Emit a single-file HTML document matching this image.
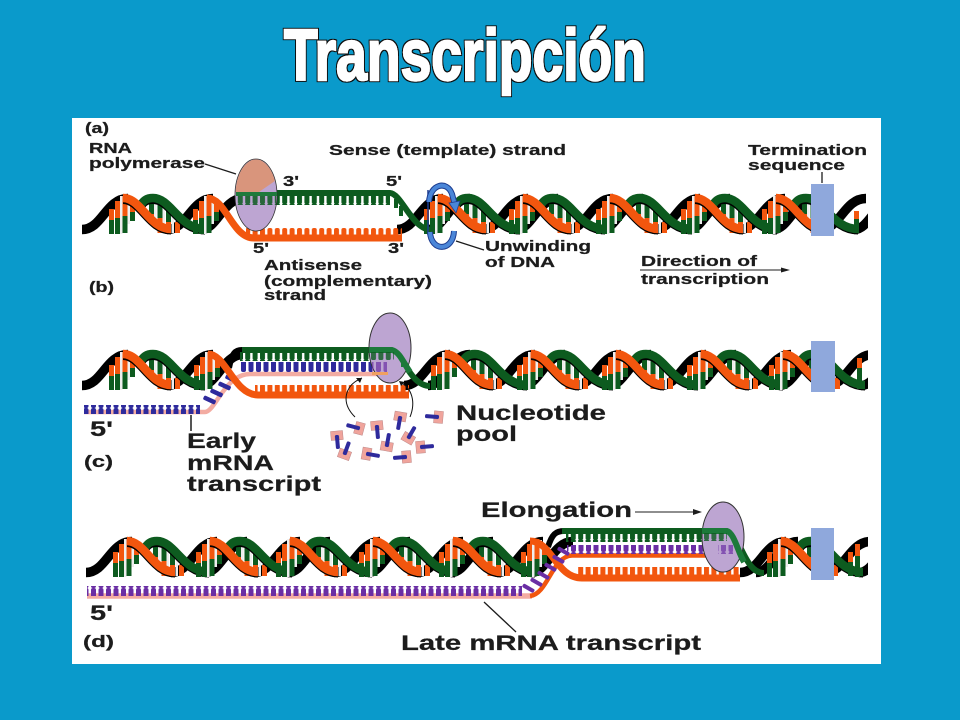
<!DOCTYPE html>
<html><head><meta charset="utf-8"><title>Transcripción</title>
<style>
html,body{margin:0;padding:0;background:#0a9acb}
svg{display:block}
text{font-family:"Liberation Sans",sans-serif;font-weight:bold;fill:#1c1c1c;stroke:#1c1c1c;stroke-width:.25}
</style></head><body>
<svg width="960" height="720" viewBox="0 0 960 720" xmlns="http://www.w3.org/2000/svg">
<defs>
<filter id="outl" x="-5%" y="-20%" width="110%" height="140%">
<feMorphology in="SourceAlpha" operator="dilate" radius="0.9" result="d"/>
<feFlood flood-color="#111"/><feComposite in2="d" operator="in" result="o"/>
<feMerge><feMergeNode in="o"/><feMergeNode in="SourceGraphic"/></feMerge>
</filter>
<clipPath id="cl"><rect x="0" y="100" width="868" height="600"/></clipPath>
<path id="K1" fill="none" stroke="#000" stroke-width="9.500" d="M42,35.500 C62,35.500 66,4.500 88,4.500"/>
<path id="K2" fill="none" stroke="#000" stroke-width="9.500" d="M76,35.500 C92,35.500 98,4.500 118,4.500"/>
<g id="OR" fill="none"><path stroke="#000" stroke-width="9" d="M-2,5.500 C16,5.500 24,36 46,36"/><path stroke="#f2560e" stroke-width="8.500" d="M-2,4 C16,4 24,35 46,35"/></g>
<g id="GR" fill="none"><path stroke="#000" stroke-width="9" d="M14,15 C18,7 22,5.500 28,5.500 C46,5.500 54,36 80,36"/><path stroke="#0d5b1f" stroke-width="8.500" d="M14,14 C18,6 22,4 28,4 C46,4 54,35 80,35"/></g>
<g id="B1">
<rect x="-16" y="15" width="5" height="11" fill="#f2560e"/><rect x="-16" y="26" width="5" height="14" fill="#0d5b1f"/>
<rect x="-10" y="7" width="5" height="17" fill="#f2560e"/><rect x="-10" y="24" width="5" height="16" fill="#0d5b1f"/>
<rect x="-5" y="2" width="2.500" height="38" fill="#eee"/>
<rect x="-2.500" y="2" width="5" height="20" fill="#f2560e"/><rect x="-2.500" y="22" width="5" height="17" fill="#0d5b1f"/>
<rect x="2.500" y="3" width="2.500" height="27" fill="#eee"/>
<rect x="5" y="7" width="5" height="11" fill="#f2560e"/><rect x="5" y="18" width="5" height="9" fill="#0d5b1f"/>
</g>
<g id="B2">
<rect x="24" y="4" width="5" height="16" fill="#0d5b1f"/><rect x="24" y="20" width="5" height="8" fill="#f2560e"/>
<rect x="29" y="4" width="2.500" height="26" fill="#eee"/>
<rect x="32.500" y="4" width="5" height="20" fill="#0d5b1f"/><rect x="32.500" y="24" width="5" height="15" fill="#f2560e"/>
<rect x="37.500" y="8" width="2.500" height="31" fill="#eee"/>
<rect x="41" y="12" width="5" height="16" fill="#0d5b1f"/><rect x="41" y="28" width="5" height="12" fill="#f2560e"/>
<rect x="46.500" y="16" width="2.500" height="23" fill="#eee"/>
<rect x="50" y="28" width="5" height="11" fill="#f2560e"/>
</g>
<g id="H"><use href="#K1"/><use href="#K2"/><use href="#B1"/><use href="#B2"/><use href="#GR"/><use href="#OR"/></g>
<pattern id="tg" patternUnits="userSpaceOnUse" width="7.400" height="12"><rect x="1" y="-2" width="5" height="14" rx="1.800" fill="#0d5b1f"/></pattern>
<pattern id="to" patternUnits="userSpaceOnUse" width="7.400" height="12"><rect x="1" y="0" width="5" height="14" rx="2" fill="#f2560e"/></pattern>
<pattern id="tb" patternUnits="userSpaceOnUse" width="7.500" height="12"><rect x="1" y="0" width="5" height="12" rx="2" fill="#2e2a9c"/></pattern>
<pattern id="tp" patternUnits="userSpaceOnUse" width="7.500" height="12"><rect x="1" y="0" width="5" height="12" rx="2" fill="#6a2ea4"/></pattern>
<g id="n"><path d="M-6,-3 L-2,-3 L-2,1 L2,1 L2,-3 L6,-3 L6,6 L-6,6Z" fill="#f0a49c" stroke="#b88" stroke-width=".5"/><rect x="-2" y="-12" width="4" height="14" rx="1.500" fill="#2e2a9c"/></g>
<clipPath id="pk"><polygon points="230,150 285,150 285,174 259,192 230,192"/></clipPath>
</defs>

<rect width="960" height="720" fill="#0a9acb"/>
<rect x="72" y="118" width="809" height="546" fill="#fff"/>

<text x="284" y="80" font-size="72" textLength="362" lengthAdjust="spacingAndGlyphs" filter="url(#outl)" style="fill:#fff;stroke:#fff;stroke-width:2.200">Transcripción</text>

<!-- PANEL A -->
<g clip-path="url(#cl)">
<g transform="translate(0,194)">
<use href="#K1" x="40"/><use href="#H" x="125"/>
<use href="#B1" x="209"/>
<use href="#K1" x="355"/><use href="#K2" x="352"/>
<use href="#H" x="440"/><use href="#H" x="525"/><use href="#H" x="612"/><use href="#H" x="697"/><use href="#H" x="778"/>
</g>
<rect x="854" y="211" width="5" height="8" fill="#f2560e"/><rect x="854" y="219" width="5" height="14" fill="#0d5b1f"/>
</g>
<path d="M207,198 C226,198 232,238 254,238 L402,238" fill="none" stroke="#f2560e" stroke-width="7"/>
<path d="M240,193 L390,193 C402,194 412,230 432,230" fill="none" stroke="#0d5b1f" stroke-width="6"/>
<rect x="240" y="195" width="150" height="10" fill="url(#tg)"/>
<rect x="394" y="199" width="4" height="9" fill="#0d5b1f"/><rect x="399" y="206" width="4" height="10" fill="#0d5b1f"/>
<rect x="246" y="228" width="156" height="8" fill="url(#to)"/>
<ellipse cx="256" cy="195" rx="21" ry="36" fill="#bda5d2" stroke="#333" stroke-width=".8"/>
<ellipse cx="256" cy="195" rx="20.500" ry="35.500" fill="#d9957c" clip-path="url(#pk)"/>
<rect x="236" y="192" width="41" height="4" fill="#1f7a3c"/>
<rect x="237" y="196" width="39" height="9" fill="url(#tg)" opacity=".85"/>
<!-- twist arrow -->
<path d="M428,190 L428,235" stroke="#1c3c90" stroke-width="1.500"/>
<path d="M429,202 C430,184 447,180 452,194 L455,205" fill="none" stroke="#1c3c90" stroke-width="6"/>
<path d="M429,202 C430,184 447,180 452,194 L455,205" fill="none" stroke="#4a86d8" stroke-width="4"/>
<path d="M449,203 L460,201 L456,213Z" fill="#4a86d8" stroke="#1c3c90" stroke-width=".7"/>
<path d="M430,232 C431,252 453,252 454,231" fill="none" stroke="#1c3c90" stroke-width="6"/>
<path d="M430,232 C431,252 453,252 454,231" fill="none" stroke="#4a86d8" stroke-width="4"/>
<rect x="811" y="184" width="23" height="52" fill="#8fa8dc"/>

<!-- PANEL B -->
<g clip-path="url(#cl)">
<g transform="translate(0,350)">
<use href="#K1" x="40"/><use href="#H" x="125"/>
<use href="#B1" x="210"/>
<use href="#K1" x="362"/><use href="#K2" x="352"/>
<use href="#H" x="447"/><use href="#H" x="533"/><use href="#H" x="618"/><use href="#H" x="703"/><use href="#H" x="785"/>
</g>
<rect x="857" y="358" width="5" height="10" fill="#f2560e"/><rect x="857" y="368" width="5" height="21" fill="#0d5b1f"/>
</g>
<path d="M229,368 C232,352 236,350 242,350" fill="none" stroke="#000" stroke-width="6"/>
<path d="M242,350 L392,350 C402,352 410,386 430,386" fill="none" stroke="#0d5b1f" stroke-width="6"/>
<rect x="240" y="352" width="152" height="9" fill="url(#tg)"/>
<path d="M84,412 L205,412 C215,412 225,374 250,374 L387,374" fill="none" stroke="#f3aca2" stroke-width="4.500"/>
<rect x="84" y="405" width="116" height="9" fill="url(#tb)"/>
<rect x="240" y="362" width="132" height="10" fill="url(#tb)"/>
<rect x="203" y="397.500" width="13" height="4.500" rx="1.500" fill="#2e2a9c" transform="rotate(25 209 400)"/>
<rect x="210" y="390.500" width="13" height="4.500" rx="1.500" fill="#2e2a9c" transform="rotate(25 216 393)"/>
<rect x="218" y="383.500" width="13" height="4.500" rx="1.500" fill="#2e2a9c" transform="rotate(25 224 386)"/>
<rect x="225" y="376.500" width="13" height="4.500" rx="1.500" fill="#2e2a9c" transform="rotate(25 231 379)"/>
<path d="M208,354 C226,354 234,395 258,395 L409,395" fill="none" stroke="#f2560e" stroke-width="7"/>
<rect x="255" y="385" width="154" height="9" fill="url(#to)"/>
<ellipse cx="390" cy="348" rx="21" ry="35" fill="#bda5d2" stroke="#333" stroke-width="1"/>
<path d="M369,350 L392,350 C400,352 404,364 410,372" fill="none" stroke="#1c7a3a" stroke-width="6"/>
<rect x="370" y="352" width="24" height="8" fill="url(#tg)" opacity=".8"/>
<rect x="401" y="359" width="4" height="8" fill="#1c7a3a"/>
<rect x="372" y="362" width="15" height="10" fill="url(#tp)" opacity=".7"/>
<rect x="372" y="372" width="16" height="3" fill="#f0a060"/>
<path d="M355,417 C340,402 345,385 362,378" fill="none" stroke="#111" stroke-width="1"/>
<path d="M362,378 L356,378 L360,383Z" fill="#111"/>
<path d="M410,417 C416,402 412,388 400,382" fill="none" stroke="#111" stroke-width="1"/>
<path d="M399,381 L405,382 L401,386Z" fill="#111"/>
<use href="#n" transform="translate(358,428) rotate(-75)"/>
<use href="#n" transform="translate(337,437) rotate(175)"/>
<use href="#n" transform="translate(377,427) rotate(175)"/>
<use href="#n" transform="translate(400,418) rotate(190)"/>
<use href="#n" transform="translate(437,417) rotate(-85)"/>
<use href="#n" transform="translate(409,437) rotate(30)"/>
<use href="#n" transform="translate(387,445) rotate(10)"/>
<use href="#n" transform="translate(422,447) rotate(85)"/>
<use href="#n" transform="translate(345,453) rotate(20)"/>
<use href="#n" transform="translate(368,454) rotate(100)"/>
<use href="#n" transform="translate(405,457) rotate(-95)"/>
<rect x="811" y="341" width="24" height="51" fill="#8fa8dc"/>

<!-- PANEL C -->
<g clip-path="url(#cl)">
<g transform="translate(0,537)">
<use href="#K1" x="44"/><use href="#H" x="129"/><use href="#H" x="212"/><use href="#H" x="292"/><use href="#H" x="375"/><use href="#H" x="455"/>
<use href="#B1" x="537"/>
<use href="#K1" x="698"/><use href="#K2" x="680"/><use href="#H" x="783"/>
</g>
<rect x="848" y="552" width="5" height="10" fill="#f2560e"/><rect x="848" y="562" width="5" height="14" fill="#0d5b1f"/>
<rect x="855" y="544" width="5" height="12" fill="#f2560e"/><rect x="855" y="556" width="5" height="21" fill="#0d5b1f"/>
</g>
<path d="M548,547 C552,534 556,531 564,531" fill="none" stroke="#000" stroke-width="6"/>
<path d="M562,531 L727,531 C740,533 744,573 764,573" fill="none" stroke="#0d5b1f" stroke-width="6"/>
<rect x="566" y="533" width="161" height="9" fill="url(#tg)"/>
<path d="M530,541 C552,541 556,578 582,578 L740,578" fill="none" stroke="#f2560e" stroke-width="7"/>
<rect x="577" y="567" width="163" height="9" fill="url(#to)"/>
<path d="M87,596 L532,596" stroke="#f3aca2" stroke-width="5.500"/>
<path d="M530,596 C548,594 552,556 572,555.500 L720,555.500" fill="none" stroke="#f2560e" stroke-width="4.500"/>
<rect x="87" y="586" width="435" height="10" fill="url(#tp)"/>
<rect x="567" y="545" width="152" height="9" fill="url(#tp)"/>
<rect x="522" y="586" width="13" height="4" rx="1.500" fill="#6a2ea4" transform="rotate(30 528 588)"/>
<rect x="530" y="580" width="13" height="4" rx="1.500" fill="#6a2ea4" transform="rotate(30 536 582)"/>
<rect x="537" y="573" width="13" height="4" rx="1.500" fill="#6a2ea4" transform="rotate(30 543 575)"/>
<rect x="544" y="565" width="13" height="4" rx="1.500" fill="#6a2ea4" transform="rotate(30 550 567)"/>
<rect x="552" y="557" width="13" height="4" rx="1.500" fill="#6a2ea4" transform="rotate(30 558 559)"/>
<rect x="557" y="549" width="13" height="4" rx="1.500" fill="#6a2ea4" transform="rotate(30 563 551)"/>
<ellipse cx="723" cy="537" rx="21" ry="35" fill="#bda5d2" stroke="#333" stroke-width="1"/>
<path d="M702,531 L727,531 C734,533 738,552 744,562" fill="none" stroke="#1c7a3a" stroke-width="6"/>
<rect x="703" y="533" width="24" height="8" fill="url(#tg)" opacity=".8"/>
<rect x="718" y="545" width="15" height="9" fill="url(#tp)" opacity=".7"/>
<rect x="811" y="528" width="23" height="52" fill="#8fa8dc"/>

<!-- LEADERS -->
<g stroke="#1c1c1c" fill="none">
<path d="M205,164 L236,174" stroke-width="1.300"/>
<path d="M822,172 L822,183" stroke-width="1.300"/>
<path d="M456,241 L484,250" stroke-width="1.300"/>
<path d="M191,415 L191,431" stroke-width="1.500"/>
<path d="M484,602 L516,632" stroke-width="1.300"/>
<path d="M635,512 L695,512" stroke-width="1"/>
<path d="M640,270 L783,270" stroke-width="1"/>
</g>
<path d="M702,512 L693,509 L693,515Z" fill="#1c1c1c"/>
<path d="M790,270 L781,267.500 L781,272.500Z" fill="#1c1c1c"/>

<!-- LABELS -->
<g font-size="14.500">
<text x="85" y="133" textLength="24" lengthAdjust="spacingAndGlyphs">(a)</text>
<text x="89" y="153" textLength="43" lengthAdjust="spacingAndGlyphs">RNA</text>
<text x="89" y="168" textLength="116" lengthAdjust="spacingAndGlyphs">polymerase</text>
<text x="329" y="155" textLength="237" lengthAdjust="spacingAndGlyphs">Sense (template) strand</text>
<text x="283" y="186" textLength="16" lengthAdjust="spacingAndGlyphs">3'</text>
<text x="386" y="186" textLength="16" lengthAdjust="spacingAndGlyphs">5'</text>
<text x="253" y="253" textLength="16" lengthAdjust="spacingAndGlyphs">5'</text>
<text x="388" y="253" textLength="16" lengthAdjust="spacingAndGlyphs">3'</text>
<text x="264" y="270" textLength="98" lengthAdjust="spacingAndGlyphs">Antisense</text>
<text x="264" y="286" textLength="168" lengthAdjust="spacingAndGlyphs">(complementary)</text>
<text x="264" y="300" textLength="62" lengthAdjust="spacingAndGlyphs">strand</text>
<text x="89" y="292" textLength="25" lengthAdjust="spacingAndGlyphs">(b)</text>
<text x="748" y="155" textLength="119" lengthAdjust="spacingAndGlyphs">Termination</text>
<text x="748" y="170" textLength="97" lengthAdjust="spacingAndGlyphs">sequence</text>
<text x="485" y="251" textLength="106" lengthAdjust="spacingAndGlyphs">Unwinding</text>
<text x="485" y="267" textLength="70" lengthAdjust="spacingAndGlyphs">of DNA</text>
<text x="641" y="266" textLength="116" lengthAdjust="spacingAndGlyphs">Direction of</text>
<text x="641" y="284" textLength="128" lengthAdjust="spacingAndGlyphs">transcription</text>
</g>
<g font-size="21">
<text x="456" y="420" textLength="150" lengthAdjust="spacingAndGlyphs">Nucleotide</text>
<text x="456" y="441" textLength="61" lengthAdjust="spacingAndGlyphs">pool</text>
<text x="90" y="436" textLength="23" lengthAdjust="spacingAndGlyphs">5'</text>
<text x="187" y="448" textLength="69" lengthAdjust="spacingAndGlyphs">Early</text>
<text x="187" y="470" textLength="87" lengthAdjust="spacingAndGlyphs">mRNA</text>
<text x="187" y="491" textLength="134" lengthAdjust="spacingAndGlyphs">transcript</text>
<text x="481" y="517" textLength="151" lengthAdjust="spacingAndGlyphs">Elongation</text>
<text x="90" y="620" textLength="23" lengthAdjust="spacingAndGlyphs">5'</text>
<text x="401" y="650" textLength="300" lengthAdjust="spacingAndGlyphs">Late mRNA transcript</text>
</g>
<g font-size="17">
<text x="84" y="467" textLength="29" lengthAdjust="spacingAndGlyphs">(c)</text>
<text x="83" y="647" textLength="31" lengthAdjust="spacingAndGlyphs">(d)</text>
</g>
</svg>
</body></html>
